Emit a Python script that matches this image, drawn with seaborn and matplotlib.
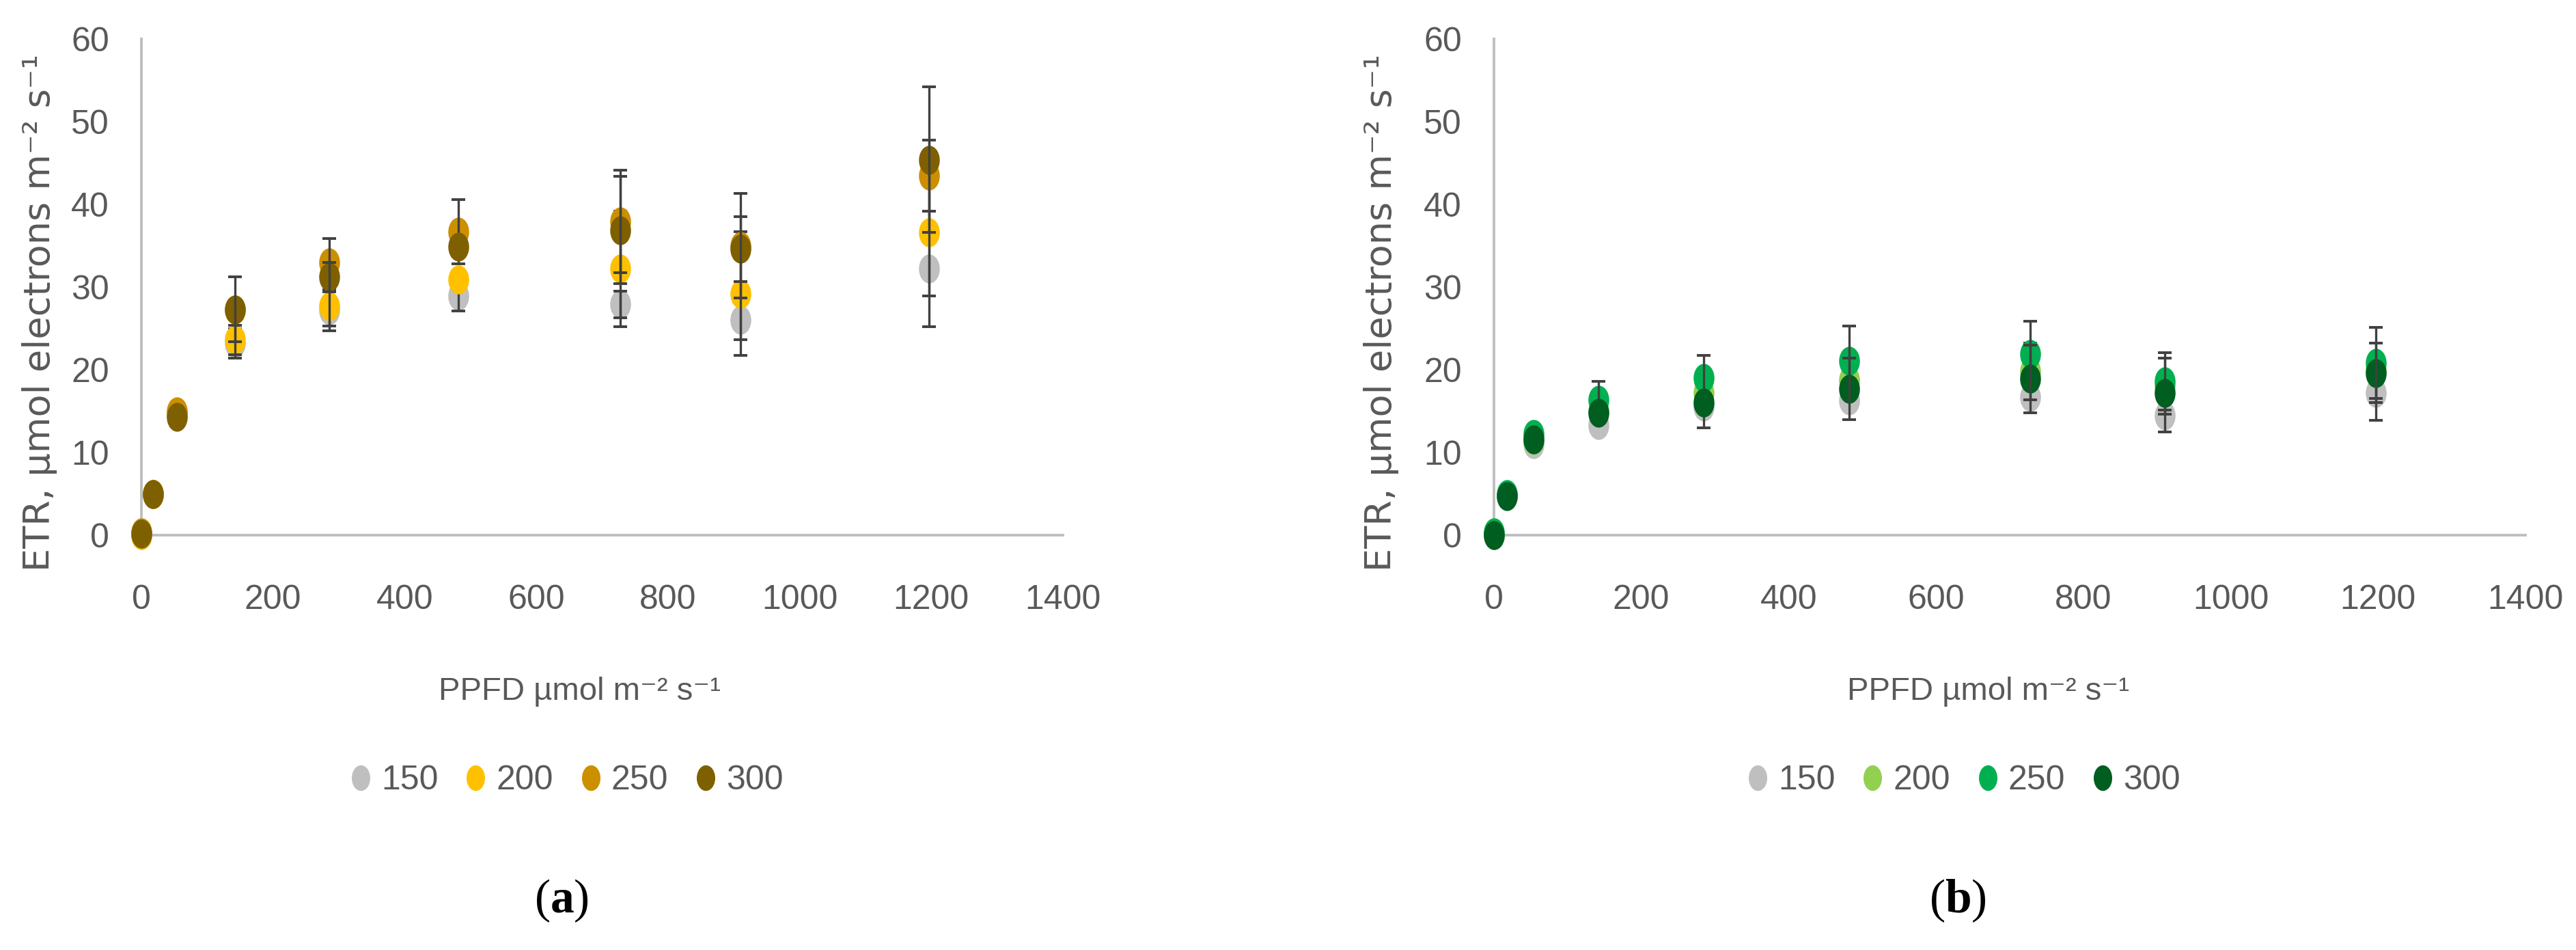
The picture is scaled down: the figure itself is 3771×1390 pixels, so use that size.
import numpy as np
import pandas as pd
import matplotlib
matplotlib.use("Agg")
import matplotlib.pyplot as plt
import seaborn as sns
from matplotlib.path import Path
from matplotlib.transforms import Affine2D
from matplotlib.lines import Line2D

# PPFD steps of the light curve
ppfd = np.array([0, 18, 54, 142, 285, 482, 728, 910, 1197])
series_labels = ["150", "200", "250", "300"]

# panel (a) - ETR values
etr_a_150 = [0.0, 5.0, 14.5, 23.2, 27.2, 28.9, 27.9, 26.0, 32.2]
etr_a_200 = [0.0, 5.0, 14.8, 23.6, 27.7, 30.9, 32.2, 29.2, 36.6]
etr_a_250 = [0.3, 5.0, 15.0, 27.3, 33.0, 36.7, 37.9, 35.0, 43.5]
etr_a_300 = [0.2, 5.0, 14.3, 27.3, 31.2, 34.9, 36.9, 34.6, 45.4]
err_a_150 = [0, 0, 0, 1.8, 2.5, 1.8, 1.6, 2.4, 7.0]
err_a_200 = [0, 0, 0, 1.8, 2.4, 0, 7.0, 7.5, 7.7]
err_a_250 = [0, 0, 0, 0, 2.9, 3.9, 6.2, 6.3, 4.3]
err_a_300 = [0, 0, 0, 3.9, 1.8, 0, 6.5, 3.9, 8.8]

# panel (b) - ETR values
etr_b_150 = [0.0, 4.8, 11.0, 13.3, 15.5, 16.3, 16.7, 14.5, 17.2]
etr_b_200 = [0.0, 4.8, 11.5, 15.0, 17.2, 18.8, 19.8, 18.0, 20.0]
etr_b_250 = [0.3, 5.0, 12.2, 16.4, 19.0, 21.1, 21.9, 18.6, 20.8]
etr_b_300 = [0.0, 4.7, 11.6, 14.8, 16.0, 17.7, 18.9, 17.2, 19.6]
err_b_150 = [0, 0, 0, 0, 2.5, 0, 0, 2.0, 3.3]
err_b_200 = [0, 0, 0, 0, 0, 0, 3.4, 3.4, 0]
err_b_250 = [0, 0, 0, 2.2, 2.7, 4.2, 4.0, 3.5, 4.3]
err_b_300 = [0, 0, 0, 0, 0, 3.7, 4.1, 0, 3.6]

colors_a = ["#BFBFBF", "#FFC000", "#CC8F00", "#7F6000"]
colors_b = ["#BFBFBF", "#92D050", "#00B050", "#005E20"]

sns.set_theme(style="white")
plt.rcParams["font.family"] = ["Liberation Sans Narrow", "Liberation Sans", "DejaVu Sans"]
plt.rcParams["mathtext.fontset"] = "custom"
plt.rcParams["mathtext.rm"] = "Liberation Serif"
plt.rcParams["mathtext.bf"] = "Liberation Serif:bold"

W, H = 3771, 1390
TXT = "#595959"
FS = 36
# Excel markers come out as tall ellipses in this figure
ellipse = Path.unit_circle().transformed(Affine2D().scale(0.72, 1.0))


def draw_panel(ax, values, errors, colors):
    for i, (lab, yv, ev, col) in enumerate(zip(series_labels, values, errors, colors)):
        df = pd.DataFrame({"PPFD": ppfd, "ETR": yv, "err": ev})
        sns.scatterplot(data=df, x="PPFD", y="ETR", ax=ax, color=col, marker=ellipse,
                        s=930, linewidth=0, zorder=3 + 2 * i, clip_on=False, legend=False)
        m = df["err"] > 0
        ax.errorbar(df.loc[m, "PPFD"], df.loc[m, "ETR"], yerr=df.loc[m, "err"], fmt="none",
                    ecolor="#404040", elinewidth=2.4, capsize=7, capthick=2.8,
                    zorder=4 + 2 * i, clip_on=False)
    ax.set_xlim(0, 1400)
    ax.set_ylim(0, 60)
    ax.set_xticks(range(0, 1401, 200))
    ax.set_yticks(range(0, 61, 10))
    ax.set_xlabel("")
    ax.set_ylabel("")
    for s in ["top", "right"]:
        ax.spines[s].set_visible(False)
    for s in ["left", "bottom"]:
        ax.spines[s].set_color("#BFBFBF")
        ax.spines[s].set_linewidth(2.8)
    ax.tick_params(axis="both", length=0, labelsize=FS, labelcolor=TXT)
    ax.tick_params(axis="x", pad=52)
    ax.tick_params(axis="y", pad=34)
    ax.set_facecolor("white")


fig = plt.figure(figsize=(W / 100, H / 100), dpi=100)
ax_a = fig.add_axes([207 / W, 1 - 783 / H, 1349 / W, 726 / H])
ax_b = fig.add_axes([2187 / W, 1 - 783 / H, 1510 / W, 726 / H])

draw_panel(ax_a, [etr_a_150, etr_a_200, etr_a_250, etr_a_300],
           [err_a_150, err_a_200, err_a_250, err_a_300], colors_a)
draw_panel(ax_b, [etr_b_150, etr_b_200, etr_b_250, etr_b_300],
           [err_b_150, err_b_200, err_b_250, err_b_300], colors_b)

ylab = "ETR, \u03bcmol electrons m\u207b\u00b2 s\u207b\u00b9"
xlab = "PPFD \u00b5mol m\u207b\u00b2 s\u207b\u00b9"
for yx, xx, lx, px, tag, cols in [(58, 848, 830, 822, "a", colors_a),
                                  (2022, 2910, 2875, 2866, "b", colors_b)]:
    fig.text(yx / W, 1 - 458 / H, ylab, rotation=90, ha="center", va="center",
             fontsize=39, color=TXT, family=["DejaVu Sans"])
    fig.text(xx / W, 1 - 1012 / H, xlab, ha="center", va="center", fontsize=34, color=TXT)
    handles = [Line2D([], [], ls="", marker=ellipse, markersize=27, color=c, markeredgewidth=0)
               for c in cols]
    fig.legend(handles, series_labels, loc="center", bbox_to_anchor=(lx / W, 1 - 1142 / H),
               ncol=4, frameon=False, fontsize=FS, handletextpad=0.3, columnspacing=0.8,
               handlelength=0.6, labelcolor=TXT)
    fig.text(px / W, 1 - 1318 / H, r"($\mathbf{" + tag + "}$)", ha="center", va="center",
             fontsize=50, family="Liberation Serif", color="black")

fig.savefig("out.png", dpi=100, facecolor="white")
